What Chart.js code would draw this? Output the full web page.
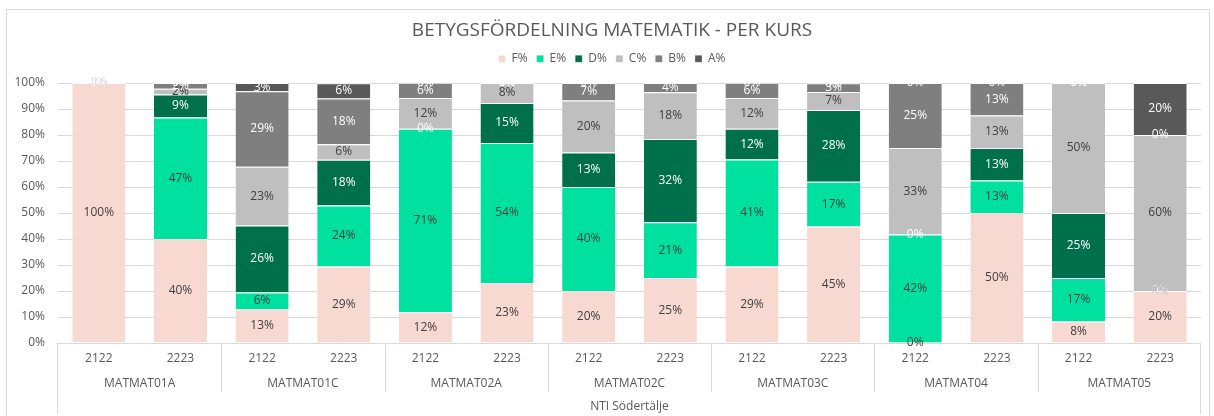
<!DOCTYPE html>
<html><head><meta charset="utf-8">
<script src="https://cdn.jsdelivr.net/npm/chart.js@4/dist/chart.umd.min.js"></script>
<style>
html,body{margin:0;padding:0;background:#fff;}
#wrap{position:relative;width:1214px;height:416px;overflow:hidden;}
#frame{position:absolute;left:6px;top:9px;width:1204px;height:430px;border:1px solid #D9D9D9;box-sizing:border-box;}
canvas{position:absolute;left:0;top:0;}
</style></head><body>
<div id="wrap"><div id="frame"></div><canvas id="c" width="1214" height="416"></canvas></div>
<script>
const titleText = 'BETYGSFÖRDELNING MATEMATIK - PER KURS';
const years = ['2122','2223','2122','2223','2122','2223','2122','2223','2122','2223','2122','2223','2122','2223'];
const courses = ['MATMAT01A','MATMAT01C','MATMAT02A','MATMAT02C','MATMAT03C','MATMAT04','MATMAT05'];
const school = ['NTI Södertälje'];
const seriesNames = ['F%','E%','D%','C%','B%','A%'];
const F = [100, 40, 13.0, 29.4, 11.8, 23.1, 20, 25, 29.4, 44.8, 0, 50, 8.3, 20];
const E = [0, 46.7, 6.4, 23.5, 70.6, 53.8, 40, 21.4, 41.2, 17.2, 41.7, 12.5, 16.7, 0];
const D = [0, 8.9, 25.8, 17.6, 0, 15.4, 13.3, 32.1, 11.8, 27.6, 0, 12.5, 25, 0];
const C = [0, 2.2, 22.6, 5.9, 11.8, 7.7, 20, 17.9, 11.8, 6.9, 33.3, 12.5, 50, 60];
const B = [0, 2.2, 29.0, 17.6, 5.9, 0, 6.7, 3.6, 5.9, 3.4, 25, 12.5, 0, 0];
const A = [0, 0, 3.2, 5.9, 0, 0, 0, null, 0, 0, 0, 0, 0, 20];
const yTickValues = [0, 10, 20, 30, 40, 50, 60, 70, 80, 90, 100];

const fillColors = ['#F8D9D1', '#00E09E', '#00704A', '#BFBFBF', '#7F7F7F', '#595959'];
const labelColors = ['#404040', '#404040', '#FFFFFF', '#404040', '#FFFFFF', '#FFFFFF'];
const FONT = '"Open Sans", "DejaVu Sans", sans-serif';
const TXT = '#595959';
const GRID = '#D9D9D9';

const values = [F, E, D, C, B, A];
const datasets = values.map((arr, i) => ({
  label: seriesNames[i],
  data: arr,
  backgroundColor: fillColors[i],
  borderColor: '#FFFFFF',
  borderWidth: {top: 1, left: 0, right: 0, bottom: 0},
  borderSkipped: false,
  barPercentage: 0.65,
  categoryPercentage: 1.0
}));

const labelPlugin = {
  id: 'segLabels',
  afterDatasetsDraw(chart) {
    const ctx = chart.ctx;
    ctx.save();
    ctx.font = '12px ' + FONT;
    ctx.textAlign = 'center';
    ctx.textBaseline = 'middle';
    chart.data.datasets.forEach((ds, i) => {
      const meta = chart.getDatasetMeta(i);
      meta.data.forEach((el, j) => {
        const v = ds.data[j];
        if (v === null || v === undefined) return;
        ctx.fillStyle = labelColors[i];
        ctx.fillText(Math.round(v) + '%', el.x, (el.y + el.base) / 2);
      });
    });
    ctx.restore();
  }
};

const shiftPlugin = {
  id: 'headerShift',
  afterLayout(chart) {
    const d = 8.5;
    [chart.titleBlock, chart.legend].forEach(b => {
      if (b) { b.left += d; b.right += d; }
    });
  }
};

const sepPlugin = {
  id: 'groupSeparators',
  afterDraw(chart) {
    const ctx = chart.ctx;
    const xs = chart.scales.x;
    const area = chart.chartArea;
    const half = (xs.getPixelForValue(1) - xs.getPixelForValue(0)) / 2;
    ctx.save();
    ctx.strokeStyle = GRID;
    ctx.lineWidth = 1;
    ctx.beginPath();
    for (let g = 1; g < courses.length; g++) {
      const px = Math.round(xs.getPixelForValue(g * 2) - half) + 0.5;
      ctx.moveTo(px, area.bottom);
      ctx.lineTo(px, chart.scales.x2.bottom - 4);
    }
    const l = Math.round(area.left) - 0.5, r = Math.round(area.right) - 0.5;
    ctx.moveTo(l, area.bottom); ctx.lineTo(l, 414);
    ctx.moveTo(r, area.bottom); ctx.lineTo(r, 414);
    ctx.stroke();
    ctx.restore();
  }
};

new Chart(document.getElementById('c'), {
  type: 'bar',
  data: { labels: years, datasets },
  plugins: [labelPlugin, sepPlugin, shiftPlugin],
  options: {
    responsive: false,
    animation: false,
    layout: { padding: { top: 10, left: 6, right: 13, bottom: 0 } },
    plugins: {
      title: {
        display: true, text: titleText, color: TXT,
        font: { family: FONT, size: 19, weight: 'normal' },
        padding: { top: 9, bottom: 2 }
      },
      subtitle: {
        display: true, text: ' ', weight: 500,
        font: { size: 1 }, padding: { top: 0, bottom: 7 }
      },
      legend: {
        display: true, position: 'top',
        labels: {
          color: TXT, boxWidth: 7, boxHeight: 7, padding: 9,
          font: { family: FONT, size: 12 }
        }
      },
      tooltip: { enabled: false }
    },
    scales: {
      x: {
        type: 'category', stacked: true, position: 'bottom', weight: 0,
        offset: true,
        grid: { display: false, drawTicks: false },
        border: { display: false },
        ticks: { color: TXT, font: { family: FONT, size: 12 }, padding: 8, maxRotation: 0, autoSkip: false },
        afterFit(s) { s.height = 27; }
      },
      x2: {
        type: 'category', labels: courses, position: 'bottom', weight: 1,
        offset: true,
        grid: { display: false, drawTicks: false },
        border: { display: false },
        ticks: { color: TXT, font: { family: FONT, size: 12 }, padding: 6, maxRotation: 0, autoSkip: false },
        afterFit(s) { s.height = 26; }
      },
      x3: {
        type: 'category', labels: school, position: 'bottom', weight: 2,
        offset: true,
        grid: { display: false, drawTicks: false },
        border: { display: false },
        ticks: { color: TXT, font: { family: FONT, size: 12 }, padding: 3, maxRotation: 0, autoSkip: false },
        afterFit(s) { s.height = 20; }
      },
      y: {
        stacked: true, min: 0, max: 100,
        afterBuildTicks(s) { s.ticks = yTickValues.map(v => ({ value: v })); },
        grid: { color: GRID, drawTicks: false },
        border: { display: false },
        ticks: { color: TXT, font: { family: FONT, size: 12 }, padding: 13, callback: v => v + '%' },
        afterFit(s) { s.width = 52; }
      }
    }
  }
});
</script>
</body></html>
